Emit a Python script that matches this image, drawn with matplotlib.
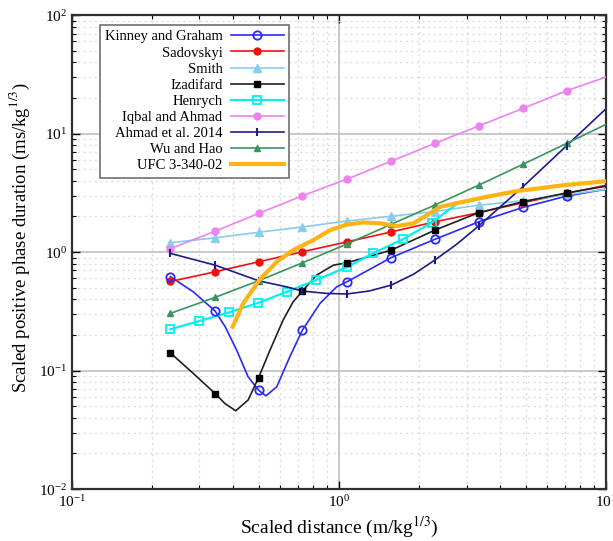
import matplotlib
matplotlib.use("Agg")
import matplotlib.pyplot as plt
from matplotlib.lines import Line2D
from matplotlib.ticker import LogLocator, NullFormatter

plt.rcParams['font.family'] = ['Liberation Serif', 'DejaVu Serif']
plt.rcParams['mathtext.fontset'] = 'stix'

# ---------------- data ----------------
# common marker abscissae
z_mk = [0.234, 0.344, 0.5, 0.73, 1.07, 1.57, 2.28, 3.33, 4.87, 7.1]

# Kinney and Graham (line points, marker points)
kg_x = [0.234, 0.285, 0.344, 0.375, 0.414, 0.457, 0.5, 0.533, 0.585, 0.655, 0.73, 0.849, 0.98, 1.07, 1.57, 2.28, 3.33, 4.87, 7.1, 10.0]
kg_y = [0.62, 0.462, 0.318, 0.235, 0.149, 0.0887, 0.0684, 0.0612, 0.073, 0.131, 0.22, 0.369, 0.509, 0.561, 0.90, 1.28, 1.80, 2.38, 2.97, 3.4]
kg_mk = [0.62, 0.318, 0.0684, 0.22, 0.561, 0.90, 1.28, 1.80, 2.38, 2.97]

# Sadovskyi
sd_x = [0.234, 0.344, 0.5, 0.73, 1.07, 1.57, 2.28, 3.33, 4.87, 7.1, 10.0]
sd_y = [0.565, 0.682, 0.828, 1.006, 1.22, 1.48, 1.80, 2.15, 2.61, 3.13, 3.67]

# Smith
sm_x = [0.234, 0.344, 0.5, 0.73, 1.07, 1.57, 2.28, 3.33, 4.87, 7.1, 10.0]
sm_y = [1.20, 1.32, 1.47, 1.63, 1.83, 2.01, 2.20, 2.49, 2.71, 3.05, 3.40]

# Izadifard
iz_x = [0.234, 0.285, 0.344, 0.374, 0.411, 0.457, 0.5, 0.552, 0.618, 0.674, 0.73, 0.825, 0.953, 1.07, 1.57, 2.28, 3.33, 4.87, 7.1, 10.0]
iz_y = [0.141, 0.0946, 0.064, 0.0528, 0.0458, 0.0564, 0.0869, 0.149, 0.267, 0.381, 0.469, 0.640, 0.776, 0.812, 1.04, 1.53, 2.15, 2.66, 3.16, 3.6]
iz_mk = [0.141, 0.064, 0.0869, 0.469, 0.812, 1.04, 1.53, 2.15, 2.66, 3.16]

# Henrych
hn_x = [0.234, 0.30, 0.388, 0.499, 0.637, 0.82, 1.07, 1.34, 1.73, 2.22, 2.72]
hn_y = [0.223, 0.262, 0.310, 0.373, 0.462, 0.581, 0.745, 0.976, 1.28, 1.77, 2.49]

# Iqbal and Ahmad
ia_x = [0.234, 0.344, 0.5, 0.73, 1.07, 1.57, 2.28, 3.33, 4.87, 7.1, 10.0]
ia_y = [1.07, 1.50, 2.12, 2.99, 4.13, 5.86, 8.26, 11.6, 16.3, 23.0, 30.1]

# Ahmad et al. 2014
ah_x = [0.234, 0.344, 0.5, 0.637, 0.73, 0.90, 1.07, 1.30, 1.57, 1.90, 2.28, 2.75, 3.33, 4.87, 7.1, 10.0]
ah_y = [0.975, 0.776, 0.573, 0.509, 0.469, 0.448, 0.443, 0.470, 0.527, 0.65, 0.855, 1.16, 1.66, 3.55, 7.89, 16.3]
ah_mk = [0.975, 0.776, 0.573, 0.469, 0.443, 0.527, 0.855, 1.66, 3.55, 7.89]

# Wu and Hao
wh_x = [0.234, 0.344, 0.5, 0.73, 1.07, 1.57, 2.28, 3.33, 4.87, 7.1, 10.0]
wh_y = [0.304, 0.415, 0.573, 0.812, 1.17, 1.72, 2.49, 3.67, 5.50, 8.26, 12.0]

# UFC 3-340-02
ufc_x = [0.400, 0.438, 0.506, 0.585, 0.674, 0.80, 0.925, 1.07, 1.23, 1.42, 1.65, 1.90, 2.13, 2.39, 2.92, 3.68, 4.63, 6.92, 10.0]
ufc_y = [0.234, 0.369, 0.589, 0.828, 1.04, 1.26, 1.53, 1.71, 1.78, 1.75, 1.66, 1.75, 2.05, 2.41, 2.66, 2.97, 3.27, 3.67, 3.97]

labels = ["Kinney and Graham", "Sadovskyi", "Smith", "Izadifard", "Henrych",
          "Iqbal and Ahmad", "Ahmad et al. 2014", "Wu and Hao", "UFC 3-340-02"]

# ---------------- figure ----------------
fig = plt.figure(figsize=(6.13, 5.41), dpi=100)
ax = fig.add_axes([0.117, 0.096, 0.872, 0.876])
ax.set_xscale('log')
ax.set_yscale('log')
ax.set_xlim(0.1, 10)
ax.set_ylim(0.01, 100)

c_kg, c_sd, c_sm, c_iz = '#2a2af5', '#f01010', '#87cdee', '#202020'
c_hn, c_ia, c_ah, c_wh, c_ufc = '#00f0f0', '#ee82ee', '#1c1c8a', '#3a9460', '#ffb414'
lw = 1.2

ax.plot(kg_x, kg_y, color=c_kg, lw=lw, zorder=3)
ax.plot(z_mk, kg_mk, ls='none', marker='o', ms=6, mfc='none', mec=c_kg, mew=1.3, zorder=4)
ax.plot(sd_x, sd_y, color=c_sd, lw=lw, marker='o', ms=5, mfc=c_sd, mec=c_sd,
        markevery=list(range(10)), zorder=3)
ax.plot(sm_x, sm_y, color=c_sm, lw=lw, marker='^', ms=6, mfc=c_sm, mec=c_sm,
        markevery=list(range(10)), zorder=3)
ax.plot(iz_x, iz_y, color=c_iz, lw=lw, zorder=3)
ax.plot(z_mk, iz_mk, ls='none', marker='s', ms=5, mfc='black', mec='black', zorder=4)
ax.plot(hn_x, hn_y, color=c_hn, lw=1.6, marker='s', ms=6, mfc='none', mec=c_hn, mew=1.3,
        markevery=list(range(10)), zorder=3)
ax.plot(ia_x, ia_y, color=c_ia, lw=lw, marker='o', ms=5, mfc=c_ia, mec=c_ia,
        markevery=list(range(10)), zorder=3)
ax.plot(ah_x, ah_y, color=c_ah, lw=lw, zorder=3)
ax.plot(z_mk, ah_mk, ls='none', marker='|', ms=6, mec=c_ah, mew=1.5, zorder=4)
ax.plot(wh_x, wh_y, color=c_wh, lw=lw, marker='^', ms=4, mfc=c_wh, mec=c_wh,
        markevery=list(range(10)), zorder=3)
ax.plot(ufc_x, ufc_y, color=c_ufc, lw=3, zorder=5)

# grid
ax.xaxis.set_minor_locator(LogLocator(base=10, subs=range(2, 10), numticks=20))
ax.yaxis.set_minor_locator(LogLocator(base=10, subs=range(2, 10), numticks=20))
ax.xaxis.set_minor_formatter(NullFormatter())
ax.yaxis.set_minor_formatter(NullFormatter())
ax.grid(True, which='major', color='#c0c0c0', lw=1.2, ls='-')
ax.grid(True, which='minor', color='#dcdcdc', lw=1.0, ls=(0, (1.5, 2.5)))
ax.set_axisbelow(True)

ax.tick_params(which='both', direction='in', top=True, right=True, labelsize=11)
ax.tick_params(which='major', length=6, width=1)
ax.tick_params(which='minor', length=3, width=0.8)
for s in ax.spines.values():
    s.set_linewidth(1.6)
    s.set_color('#303030')

ax.set_xlabel(r"Scaled distance (m/kg$^{1/3}$)", fontsize=14)
ax.set_ylabel(r"Scaled positive phase duration (ms/kg$^{1/3}$)", fontsize=13.5, labelpad=8)
ax.yaxis.set_label_coords(-0.075, 0.53)

handles = [
    Line2D([], [], color=c_kg, lw=lw, marker='o', ms=6, mfc='none', mec=c_kg, mew=1.3),
    Line2D([], [], color=c_sd, lw=lw, marker='o', ms=5, mfc=c_sd, mec=c_sd),
    Line2D([], [], color=c_sm, lw=lw, marker='^', ms=6, mfc=c_sm, mec=c_sm),
    Line2D([], [], color=c_iz, lw=lw, marker='s', ms=5, mfc='black', mec='black'),
    Line2D([], [], color=c_hn, lw=1.6, marker='s', ms=6, mfc='none', mec=c_hn, mew=1.3),
    Line2D([], [], color=c_ia, lw=lw, marker='o', ms=5, mfc=c_ia, mec=c_ia),
    Line2D([], [], color=c_ah, lw=lw, marker='|', ms=6, mec=c_ah, mew=1.5),
    Line2D([], [], color=c_wh, lw=lw, marker='^', ms=4, mfc=c_wh, mec=c_wh),
    Line2D([], [], color=c_ufc, lw=3),
]
leg = ax.legend(handles, labels, loc='upper left', bbox_to_anchor=(0.052, 0.979),
                borderaxespad=0, markerfirst=False, fontsize=10.5, frameon=True,
                fancybox=False, edgecolor='#707070', framealpha=1,
                handlelength=3.6, labelspacing=0.2, borderpad=0.35, handletextpad=0.6)
leg.get_frame().set_linewidth(1.2)
for t in leg.get_texts():
    t.set_ha('right')
leg._legend_box.align = 'right'

fig.savefig("out.png", dpi=100)
